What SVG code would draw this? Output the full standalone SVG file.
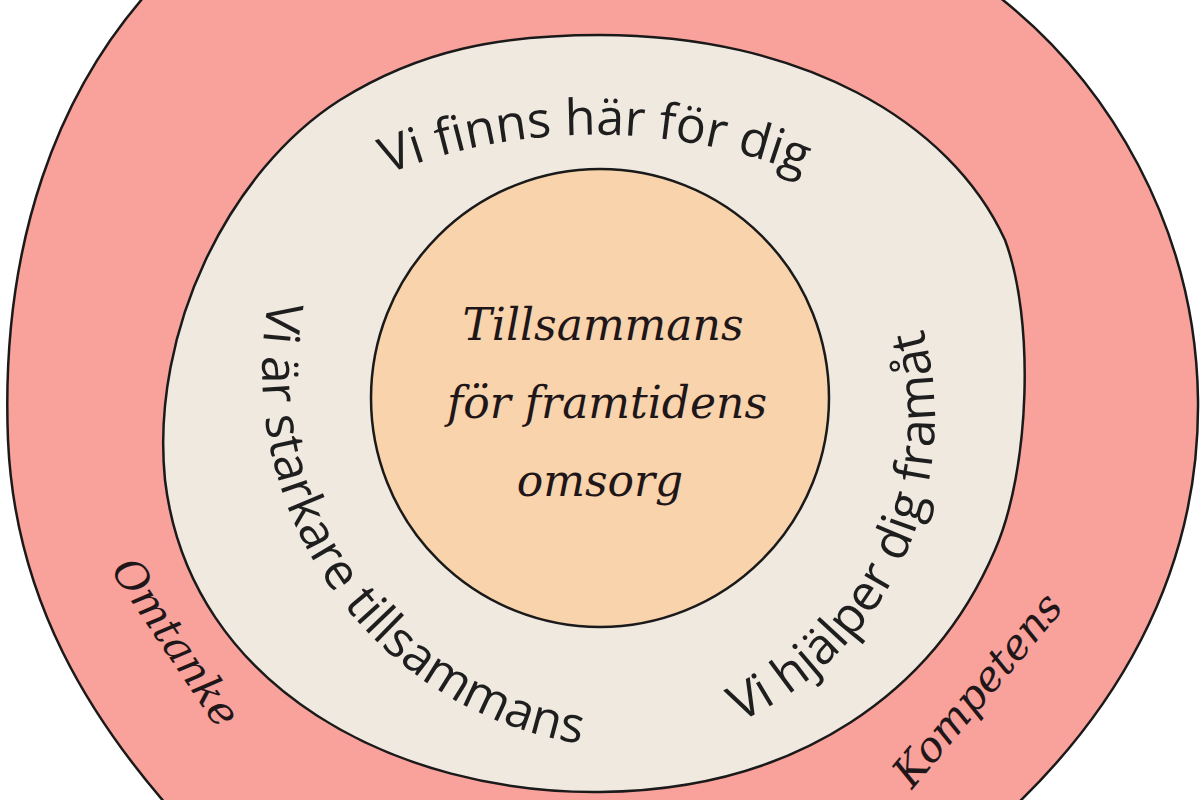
<svg xmlns="http://www.w3.org/2000/svg" width="1200" height="800" viewBox="0 0 1200 800">
<style>
.ol{stroke:#1a1a1a;stroke-width:2.5}
.ring{font-family:"Open Sans","DejaVu Sans",sans-serif;font-size:50px;fill:#1e1e1e}
.script{font-family:"DejaVu Serif",serif;font-style:italic;fill:#1e1618}
</style>
<defs>
<path id="pTop" d="M 265,241 A 565,565 0 0 1 925,241"/>
<path id="pLeft" d="M 285,241 A 378,378 0 0 0 673,747"/>
<path id="pRight" d="M 670,745 A 335,335 0 0 0 890,250"/>
</defs>
<g id="outer"><path class="ol" fill="#F9A19B" d="M 150,-10 C 60,90 0,240 8,440 C 15,600 90,720 180,820 L 1000,820 C 1110,720 1200,580 1198,400 C 1196,230 1110,80 990,-10 Z"/></g>
<g id="middle"><path class="ol" fill="#F0E9E0" d="M 600,35 C 800,35 950,120 1005,240 C 1035,320 1030,470 995,550 C 935,690 800,790 600,792 C 400,794 190,690 165,480 C 150,330 230,170 340,100 C 420,50 500,35 600,35 Z"/></g>
<g id="inner"><circle class="ol" cx="600" cy="398" r="229" fill="#F8D3AB"/>
<text class="script" font-size="44" text-anchor="middle" x="603" y="340">Tillsammans</text>
<text class="script" font-size="44" text-anchor="middle" x="607" y="418">för framtidens</text>
<text class="script" font-size="44" text-anchor="middle" x="600" y="496">omsorg</text></g>
<g id="labels">
<text class="ring"><textPath href="#pTop" startOffset="50%" text-anchor="middle">Vi finns här för dig</textPath></text>
<text class="ring"><textPath href="#pLeft" startOffset="48%" text-anchor="middle">Vi är starkare tillsammans</textPath></text>
<text class="ring"><textPath href="#pRight" startOffset="49%" text-anchor="middle">Vi hjälper dig framåt</textPath></text>
<text class="script" font-size="42" transform="translate(110,570) rotate(56)">Omtanke</text>
<text class="script" font-size="42" transform="translate(912,790) rotate(-50)">Kompetens</text>
</g>
</svg>
